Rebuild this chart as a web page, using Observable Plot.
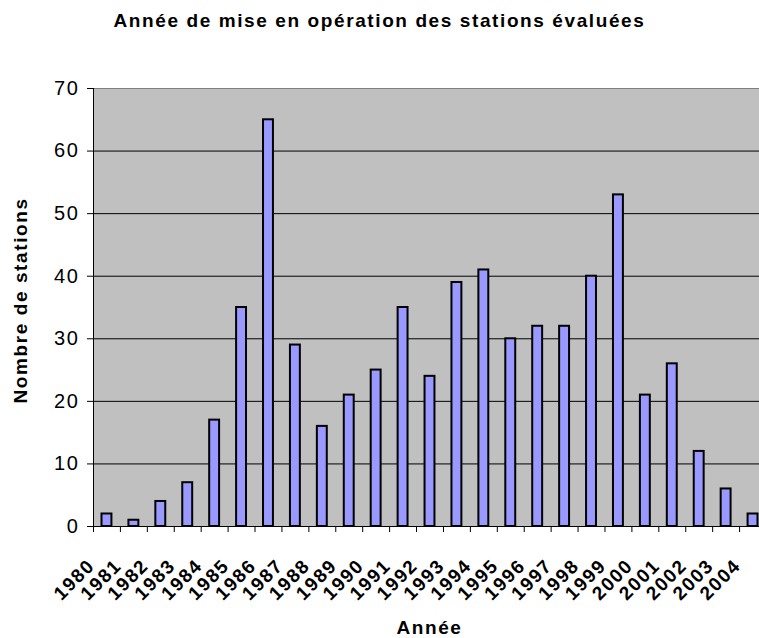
<!DOCTYPE html>
<html><head><meta charset="utf-8">
<script src="https://cdn.jsdelivr.net/npm/d3@7"></script>
<script src="https://cdn.jsdelivr.net/npm/@observablehq/plot@0.6"></script>
<style>body{margin:0;background:#fff} svg text{letter-spacing:1.6px}</style>
</head><body><div id="chart"></div>
<script>
const title = "Année de mise en opération des stations évaluées";
const xLabel = "Année";
const yLabel = "Nombre de stations";
const years = ["1980","1981","1982","1983","1984","1985","1986","1987","1988","1989","1990","1991","1992","1993","1994","1995","1996","1997","1998","1999","2000","2001","2002","2003","2004"];
const counts = [2,1,4,7,17,35,65,29,16,21,25,35,24,39,41,30,32,32,40,53,21,26,12,6,2];
const yTicks = [0,10,20,30,40,50,60,70];

const data = years.map((year, i) => ({year, count: counts[i]}));

const W = 759, H = 638, mL = 93, mR = 0, mT = 88, mB = 112;
const xEnd = 766; // plot area continues slightly past the right edge of the picture
const band = (xEnd - mL) / years.length;
const font = "'Liberation Sans', Arial, sans-serif";

const chart = Plot.plot({
  width: W, height: H,
  marginLeft: mL, marginRight: mR, marginTop: mT, marginBottom: mB,
  style: {fontFamily: font, background: "#fff", color: "#000"},
  x: {type: "band", domain: years, padding: 0, round: false, range: [mL, xEnd]},
  y: {domain: [0, 70]},
  marks: [
    Plot.frame({fill: "#C0C0C0", stroke: "#808080"}),
    Plot.ruleY(yTicks.filter(d => d > 0 && d < 70), {stroke: "#000", strokeWidth: 1}),
    Plot.barY(data, {x: "year", y: "count", fill: "#9999FF", stroke: "#000", strokeWidth: 2, insetLeft: 8.5, insetRight: 8.5}),
    Plot.ruleY([0], {stroke: "#000"}),
    Plot.ruleX([years[0]], {dx: -band / 2, stroke: "#000"}),
    Plot.axisY({ticks: yTicks, tickSize: 6, tickPadding: 8, fontSize: 20, label: null, stroke: "#000"}),
    Plot.axisX({tickSize: 6, dx: -band / 2, tickFormat: () => "", label: null, stroke: "#000"}),
    Plot.axisX({tickSize: 0, tickRotate: -45, dx: -band / 2 - 2, tickPadding: 36, fontSize: 19, fontWeight: "bold", textAnchor: "end", lineAnchor: "middle", label: null}),
    Plot.text([title], {text: d => d, frameAnchor: "top", lineAnchor: "middle", dx: -47, dy: -68, fontSize: 19, fontWeight: "bold"}),
    Plot.text([yLabel], {text: d => d, frameAnchor: "left", textAnchor: "middle", lineAnchor: "middle", rotate: -90, dx: -73, dy: -7, fontSize: 19, fontWeight: "bold"}),
    Plot.text([xLabel], {text: d => d, frameAnchor: "bottom", lineAnchor: "middle", dx: 3, dy: 101, fontSize: 19, fontWeight: "bold"})
  ]
});
document.getElementById("chart").appendChild(chart);
</script>
</body></html>
